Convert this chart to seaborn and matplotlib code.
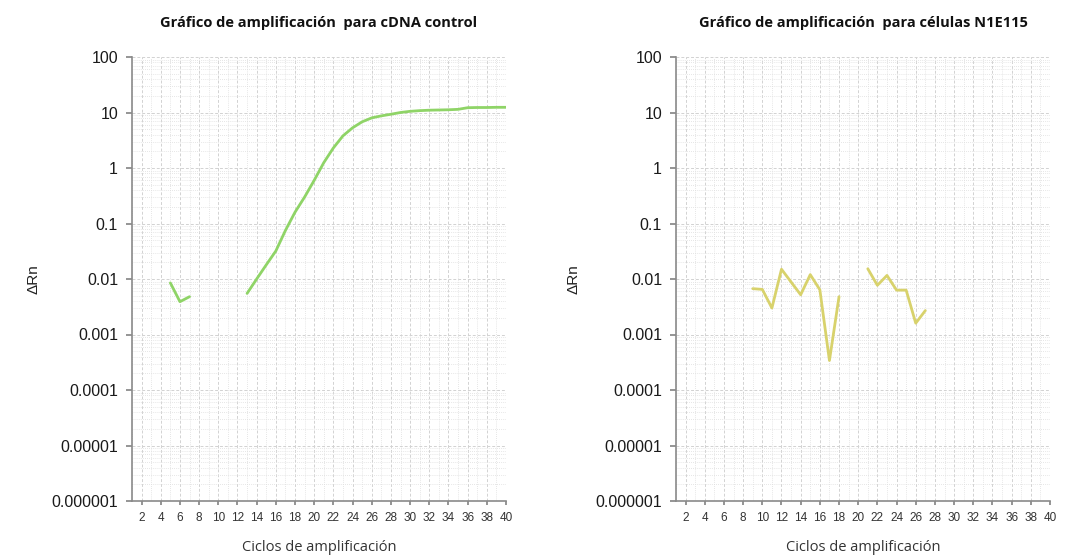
import numpy as np
import pandas as pd
import matplotlib
matplotlib.use("Agg")
import matplotlib.pyplot as plt
import matplotlib.ticker as mticker
import seaborn as sns

# ---------------- data ----------------
ctrl_seg1_cycles = [5, 6, 7]
ctrl_seg1_drn = [0.0085, 0.0039, 0.0048]
ctrl_seg2_cycles = [13, 14, 15, 16, 17, 18, 19, 20, 21, 22, 23, 24, 25, 26,
                    27, 28, 29, 30, 31, 32, 33, 34, 35, 36, 37, 38, 39, 40]
ctrl_seg2_drn = [0.0055, 0.010, 0.018, 0.032, 0.075, 0.16, 0.30, 0.60, 1.25,
                 2.3, 3.8, 5.3, 6.8, 8.0, 8.7, 9.3, 10.0, 10.5, 10.8, 11.0,
                 11.1, 11.2, 11.4, 12.2, 12.3, 12.3, 12.4, 12.4]

n1e_seg1_cycles = [9, 10, 11, 12, 14, 15, 16, 17, 18]
n1e_seg1_drn = [0.0067, 0.0065, 0.0030, 0.015, 0.0052, 0.012, 0.0064,
                0.00034, 0.0048]
n1e_seg2_cycles = [21, 22, 23, 24, 25, 26, 27]
n1e_seg2_drn = [0.0153, 0.0077, 0.0116, 0.0063, 0.0063, 0.0016, 0.0027]

y_tick_values = [1e-6, 1e-5, 1e-4, 1e-3, 1e-2, 1e-1, 1, 10, 100]
y_tick_labels = ["0.000001", "0.00001", "0.0001", "0.001", "0.01", "0.1",
                 "1", "10", "100"]
x_tick_values = list(range(2, 41, 2))

titles = ["Gráfico de amplificación  para cDNA control",
          "Gráfico de amplificación  para células N1E115"]
xlabel = "Ciclos de amplificación"
ylabel = "ΔRn"

# ---------------- figure ----------------
sns.set_theme(style="white")
plt.rcParams['font.family'] = ['Liberation Sans', 'DejaVu Sans']

fig = plt.figure(figsize=(10.75, 5.6), dpi=100)
ax1 = fig.add_axes([132/1075, 1-501/560, 374/1075, 444/560])
ax2 = fig.add_axes([676/1075, 1-501/560, 374/1075, 444/560])

green = "#8fd467"
yellow = "#d8d26c"

def seg_df(x, y):
    return pd.DataFrame({"cycle": x, "drn": y})

sns.lineplot(data=seg_df(ctrl_seg1_cycles, ctrl_seg1_drn), x="cycle", y="drn",
             ax=ax1, color=green, linewidth=2, estimator=None)
sns.lineplot(data=seg_df(ctrl_seg2_cycles, ctrl_seg2_drn), x="cycle", y="drn",
             ax=ax1, color=green, linewidth=2, estimator=None)
sns.lineplot(data=seg_df(n1e_seg1_cycles, n1e_seg1_drn), x="cycle", y="drn",
             ax=ax2, color=yellow, linewidth=2, estimator=None)
sns.lineplot(data=seg_df(n1e_seg2_cycles, n1e_seg2_drn), x="cycle", y="drn",
             ax=ax2, color=yellow, linewidth=2, estimator=None)

for ax, title, ylab_x in [(ax1, titles[0], -0.245), (ax2, titles[1], -0.255)]:
    ax.set_yscale("log")
    ax.set_ylim(1e-6, 100)
    ax.set_xlim(1, 40)
    ax.set_yticks(y_tick_values)
    ax.set_yticklabels(y_tick_labels)
    ax.yaxis.set_minor_locator(mticker.LogLocator(base=10, subs=np.arange(2, 10)))
    ax.yaxis.set_minor_formatter(mticker.NullFormatter())
    ax.set_xticks(x_tick_values)
    ax.set_xticklabels([str(v) for v in x_tick_values])
    ax.xaxis.set_minor_locator(mticker.MultipleLocator(1))
    ax.tick_params(axis="y", which="major", labelsize=11.5, length=4,
                   color="#888888", left=True, labelcolor="#1a1a1a", pad=6)
    ax.tick_params(axis="y", which="minor", left=False)
    ax.tick_params(axis="x", which="major", labelsize=8.5, length=3,
                   color="#888888", bottom=True, labelcolor="#333333", pad=5)
    ax.tick_params(axis="x", which="minor", bottom=False)
    ax.grid(which="major", color="#d2d2d2", linestyle=(0, (3, 2)), linewidth=0.7)
    ax.grid(which="minor", color="#dedede", linestyle=(0, (1, 1.5)), linewidth=0.6)
    ax.set_axisbelow(True)
    for s in ["top", "right"]:
        ax.spines[s].set_visible(False)
    for s in ["left", "bottom"]:
        ax.spines[s].set_color("#8a8a8a")
        ax.spines[s].set_linewidth(1.2)
    ax.set_xlabel(xlabel, fontsize=10.5, color="#333333",
                  family=['Open Sans', 'DejaVu Sans'])
    ax.xaxis.set_label_coords(0.5, -0.088)
    ax.set_ylabel(ylabel, fontsize=11, color="#222222")
    ax.yaxis.set_label_coords(ylab_x, 0.5)
    ax.text(0.5, 1.077, title, transform=ax.transAxes, ha="center", va="center",
            fontsize=10.5, fontweight="bold", color="#111111",
            family=['Open Sans', 'DejaVu Sans'])

fig.savefig("out.png", dpi=100, facecolor="white")
